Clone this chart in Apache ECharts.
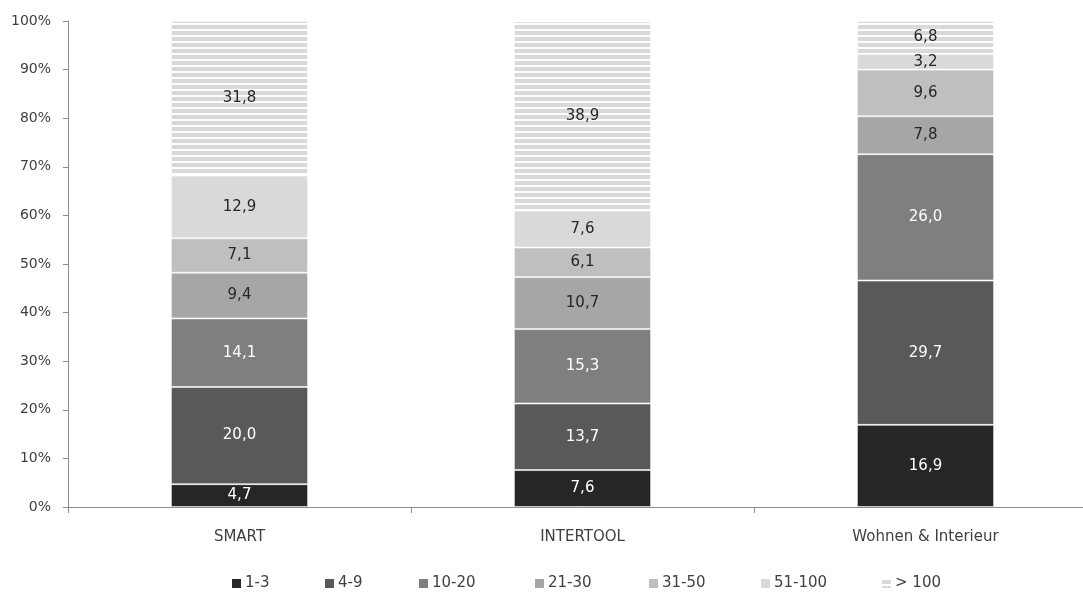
<!DOCTYPE html>
<html>
<head>
<meta charset="utf-8">
<script src="https://cdn.jsdelivr.net/npm/echarts@6/dist/echarts.min.js"></script>
<style>
  html, body { margin: 0; padding: 0; background: #ffffff; overflow: hidden; }
  #chart { width: 1100px; height: 593px; }
</style>
</head>
<body>
<div id="chart"></div>
<script>
// Fair categories and share of exhibitors by size class (in %)
const categories = ['SMART', 'INTERTOOL', 'Wohnen & Interieur'];
const seriesNames = ['1-3', '4-9', '10-20', '21-30', '31-50', '51-100', '> 100'];
const size1to3 = [4.7, 7.6, 16.9];
const size4to9 = [20.0, 13.7, 29.7];
const size10to20 = [14.1, 15.3, 26.0];
const size21to30 = [9.4, 10.7, 7.8];
const size31to50 = [7.1, 6.1, 9.6];
const size51to100 = [12.9, 7.6, 3.2];
const sizeOver100 = [31.8, 38.9, 6.8];
const yTicks = [0, 10, 20, 30, 40, 50, 60, 70, 80, 90, 100];

const seriesValues = [size1to3, size4to9, size10to20, size21to30, size31to50, size51to100, sizeOver100];

// horizontal stripe fill for the largest size class
const stripe = document.createElement('canvas');
stripe.width = 6;
stripe.height = 6;
const sctx = stripe.getContext('2d');
sctx.fillStyle = '#ffffff';
sctx.fillRect(0, 0, 6, 6);
sctx.fillStyle = '#d9d9d9';
sctx.fillRect(0, 1, 6, 4);

const fills = ['#262626', '#595959', '#7f7f7f', '#a6a6a6', '#bfbfbf', '#d9d9d9',
  { image: stripe, repeat: 'repeat' }];
const labelColors = ['#ffffff', '#ffffff', '#ffffff', '#262626', '#262626', '#262626', '#262626'];

// left edge of each legend entry
const legendLefts = [232, 325, 419, 535, 649, 761, 882];

const FONT = 'DejaVu Sans';
const fmt = v => Number(v).toFixed(1).replace('.', ',');

const chart = echarts.init(document.getElementById('chart'), null, { renderer: 'canvas' });

chart.setOption({
  animation: false,
  textStyle: { fontFamily: FONT },
  grid: { left: 68, top: 21, width: 1029, height: 486, containLabel: false },
  legend: seriesNames.map((name, i) => ({
    left: legendLefts[i],
    top: 576,
    padding: 0,
    itemWidth: 9,
    itemHeight: 9,
    icon: 'rect',
    itemStyle: { borderWidth: 0 },
    textStyle: { fontFamily: FONT, fontSize: 15, color: '#404040', padding: [0, 0, 0, -1] },
    data: [name]
  })),
  xAxis: {
    type: 'category',
    data: categories,
    axisLine: { lineStyle: { color: '#8c8c8c', width: 1 } },
    axisTick: { show: true, length: 6, lineStyle: { color: '#8c8c8c' } },
    axisLabel: { margin: 23, fontSize: 15, color: '#404040', fontFamily: FONT },
    splitLine: { show: false }
  },
  yAxis: {
    type: 'value',
    min: yTicks[0],
    max: yTicks[yTicks.length - 1],
    interval: yTicks[1] - yTicks[0],
    axisLine: { show: true, lineStyle: { color: '#8c8c8c', width: 1 } },
    axisTick: { show: true, length: 5, lineStyle: { color: '#8c8c8c' } },
    axisLabel: { formatter: '{value}%', margin: 17, fontSize: 14, color: '#404040', fontFamily: FONT },
    splitLine: { show: false }
  },
  series: seriesNames.map((name, i) => ({
    name: name,
    type: 'bar',
    stack: 'total',
    barWidth: '40%',
    data: seriesValues[i],
    itemStyle: {
      color: fills[i],
      borderColor: 'rgba(255,255,255,0.55)',
      borderWidth: 1
    },
    label: {
      show: true,
      position: 'inside',
      formatter: p => fmt(p.value),
      color: labelColors[i],
      fontSize: 15,
      fontFamily: FONT
    }
  }))
});
</script>
</body>
</html>
